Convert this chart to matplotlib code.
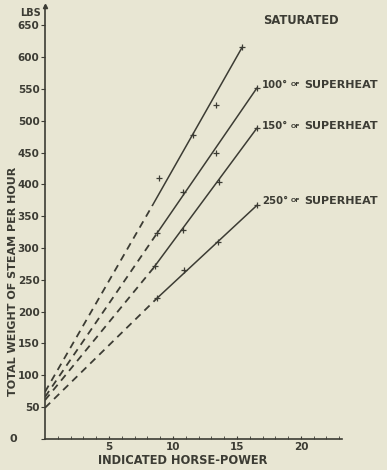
import matplotlib
matplotlib.use("Agg")
import matplotlib.pyplot as plt

# fitted lines: (x, y) at zero load, at the first test point and at the last
series_names = ["SATURATED", "100°", "150°", "250°"]
line_x0 = [0, 0, 0, 0]
line_y0 = [74, 66, 61, 49]
line_x1 = [8.4, 8.75, 8.45, 8.75]
line_y1 = [367, 323, 268, 221]
line_x2 = [15.4, 16.55, 16.55, 16.56]
line_y2 = [615, 551, 488, 367]

# test points
sat_x = [8.9, 11.6, 13.4, 15.4]
sat_y = [410, 477, 524, 615]
s100_x = [8.75, 10.8, 13.4, 16.55]
s100_y = [323, 388, 449, 551]
s150_x = [8.6, 10.8, 13.6, 16.55]
s150_y = [272, 328, 403, 488]
s250_x = [8.75, 10.9, 13.5, 16.56]
s250_y = [221, 265, 309, 367]
points = [(sat_x, sat_y), (s100_x, s100_y), (s150_x, s150_y), (s250_x, s250_y)]

y_ticks = [0, 50, 100, 150, 200, 250, 300, 350, 400, 450, 500, 550, 600, 650]
x_ticks = [5, 10, 15, 20]

bg = "#e8e6d3"
ink = "#3c3c34"

fig = plt.figure(figsize=(3.87, 4.70), dpi=100, facecolor=bg)
ax = fig.add_axes([0.1163, 0.066, 0.767, 0.921], facecolor=bg)

for i in range(4):
    ax.plot([line_x0[i], line_x1[i]], [line_y0[i], line_y1[i]],
            color=ink, lw=1.3, ls=(0, (4, 3)))
    ax.plot([line_x1[i], line_x2[i]], [line_y1[i], line_y2[i]],
            color=ink, lw=1.1)
    px, py = points[i]
    ax.plot(px, py, ls="none", marker="+", ms=5, mew=0.9, color=ink)

ax.set_xlim(0, 23.2)
ax.set_ylim(0, 680)
for s in ["top", "right"]:
    ax.spines[s].set_visible(False)
ax.spines["left"].set_color(ink)
ax.spines["bottom"].set_color(ink)
ax.spines["left"].set_linewidth(1.2)
ax.spines["bottom"].set_linewidth(1.2)
# little arrow head on top of the y axis
ax.plot([0], [680], marker="^", ms=3, color=ink, clip_on=False)

ax.set_yticks(y_ticks)
ax.set_yticklabels(["" if v == 0 else str(v) for v in y_ticks])
ax.set_xticks(x_ticks)
ax.set_xticks(range(1, 24), minor=True)
ax.tick_params(axis="y", direction="out", length=3, color=ink, labelcolor=ink,
               labelsize=7.5, pad=1)
ax.tick_params(axis="x", which="both", direction="in", length=2.5, color=ink,
               labelcolor=ink, labelsize=7.5, pad=2)
for lab in ax.get_yticklabels() + ax.get_xticklabels():
    lab.set_fontweight("bold")

fig.text(31 / 387, 1 - 13 / 470, "LBS", fontsize=7, fontweight="bold",
         color=ink, ha="center", va="center")
fig.text(13 / 387, 1 - 439 / 470, "0", fontsize=8, fontweight="bold",
         color=ink, ha="center", va="center")

ax.set_xlabel("INDICATED HORSE-POWER", fontsize=8.3, fontweight="bold",
              color=ink, labelpad=1)
ax.xaxis.set_label_coords(0.465, -0.035)
ax.set_ylabel("TOTAL WEIGHT OF STEAM PER HOUR", fontsize=8, fontweight="bold",
              color=ink, labelpad=2)
ax.yaxis.set_label_coords(-0.09, 0.365)

fig.text(263 / 387, 1 - 21 / 470, "SATURATED", fontsize=8.3, fontweight="bold",
         color=ink, ha="left", va="center")
sup_deg = ["100°", "150°", "250°"]
sup_y = [85, 126, 201]
for txt, yy in zip(sup_deg, sup_y):
    fy = 1 - yy / 470
    fig.text(262 / 387, fy, txt, fontsize=7.3, fontweight="bold",
             color=ink, ha="left", va="center")
    fig.text(291 / 387, fy, "OF", fontsize=4.5, fontweight="bold",
             color=ink, ha="left", va="center")
    fig.text(304 / 387, fy, "SUPERHEAT", fontsize=8, fontweight="bold",
             color=ink, ha="left", va="center")

fig.savefig("out.png", dpi=100, facecolor=bg)
